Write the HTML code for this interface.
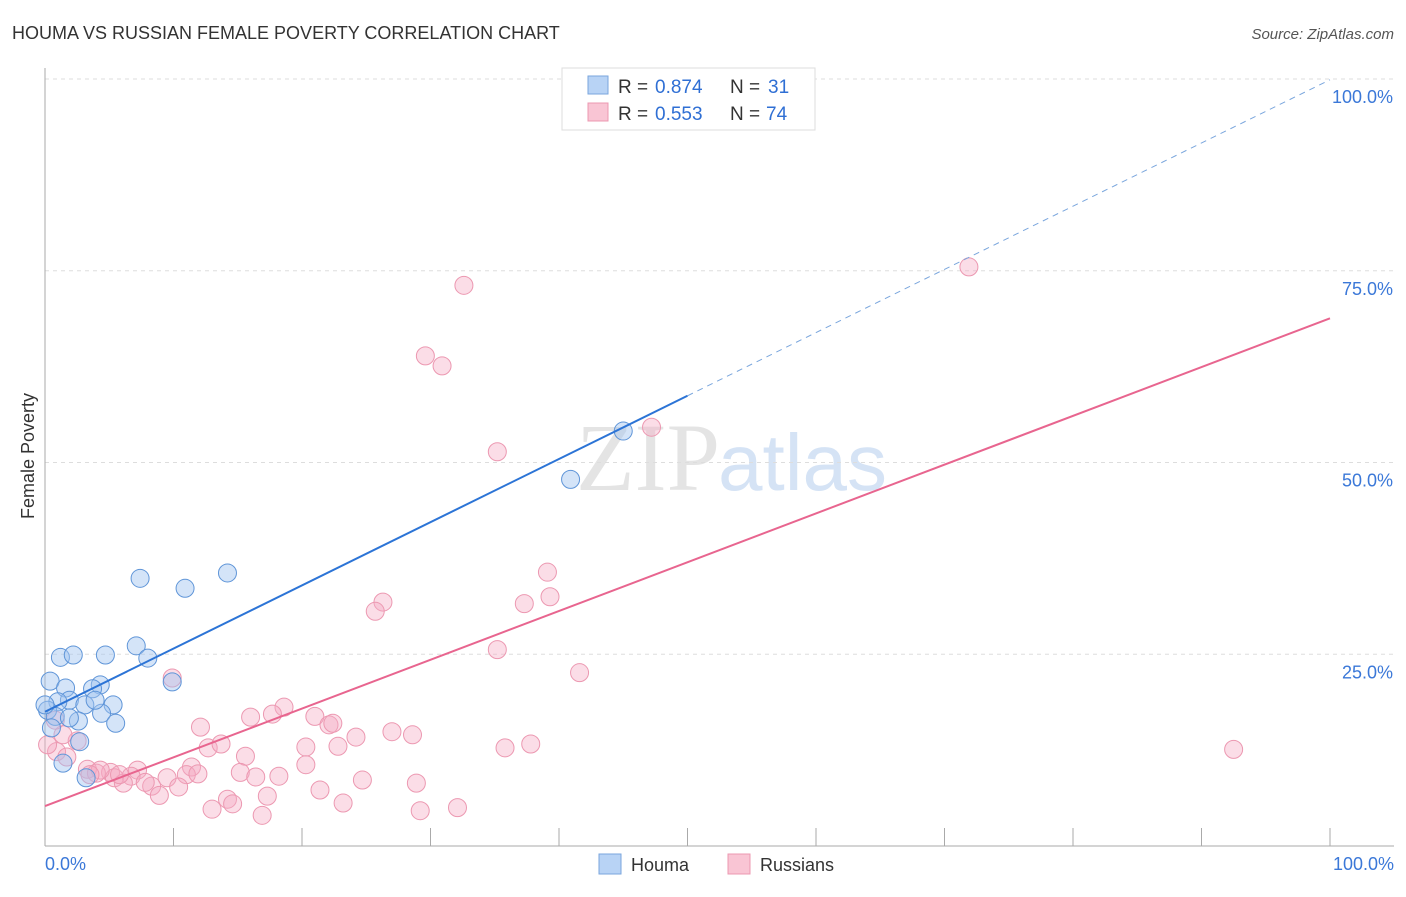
<!DOCTYPE html>
<html><head><meta charset="utf-8"><style>
body{margin:0;background:#fff;font-family:"Liberation Sans",sans-serif}
</style></head><body>
<svg width="1406" height="892" style="font-family:'Liberation Sans',sans-serif">
<text x="12" y="39" font-size="18" fill="#333">HOUMA VS RUSSIAN FEMALE POVERTY CORRELATION CHART</text>
<text x="1394" y="39" font-size="15" fill="#555" font-style="italic" text-anchor="end">Source: ZipAtlas.com</text>
<text x="720" y="490" font-size="96" fill="#e4e4e4" text-anchor="end" font-family="Liberation Serif">ZIP</text>
<text x="718" y="490" font-size="80" fill="#d5e3f5">atlas</text>
<g id="grid"></g><g id="axes"></g><g id="marks"></g>
<text transform="translate(34,456) rotate(-90)" font-size="18" fill="#333" text-anchor="middle">Female Poverty</text>
<g>
<rect x="562" y="68" width="253" height="62" fill="#fff" stroke="#ddd"/>
<rect x="588" y="76" width="20" height="18" fill="#b8d3f5" stroke="#7aa6dd"/>
<rect x="588" y="103" width="20" height="18" fill="#f9c5d4" stroke="#ec98b1"/>
<text x="618" y="93" font-size="19" fill="#333">R =</text>
<text x="655" y="93" font-size="19" fill="#2f6fd4">0.874</text>
<text x="730" y="93" font-size="19" fill="#333">N =</text>
<text x="768" y="93" font-size="19" fill="#2f6fd4">31</text>
<text x="618" y="120" font-size="19" fill="#333">R =</text>
<text x="655" y="120" font-size="19" fill="#2f6fd4">0.553</text>
<text x="730" y="120" font-size="19" fill="#333">N =</text>
<text x="766" y="120" font-size="19" fill="#2f6fd4">74</text>
</g>
<g>
<rect x="599" y="854" width="22" height="20" fill="#b8d3f5" stroke="#7aa6dd"/>
<text x="631" y="871" font-size="18" fill="#333">Houma</text>
<rect x="728" y="854" width="22" height="20" fill="#f9c5d4" stroke="#ec98b1"/>
<text x="760" y="871" font-size="18" fill="#333">Russians</text>
</g>
</svg>
<script>
const yTicks=[25,50,75,100];
const yTickLabels=["25.0%","50.0%","75.0%","100.0%"];
const xTickLabels=["0.0%","100.0%"];
const houmaX=[7.4,10.9,14.2,45.0,40.9,1.2,2.2,4.7,7.1,8.0,0.4,1.6,4.3,3.7,1.9,1.0,3.1,5.3,0.2,0.8,2.6,4.4,5.5,9.9,2.7,0.5,1.4,3.2,3.9,0.0,1.9];
const houmaY=[34.9,33.6,35.6,54.1,47.8,24.6,24.9,24.9,26.1,24.5,21.5,20.6,21.0,20.5,19.0,18.8,18.4,18.4,17.7,16.9,16.3,17.3,16.0,21.4,13.6,15.4,10.8,8.9,19.0,18.4,16.7];
const rusX=[71.9,32.6,29.6,30.9,47.2,35.2,39.1,39.3,37.3,26.3,25.7,35.2,41.6,9.9,92.5,18.6,16.0,17.7,12.1,21.0,22.1,22.4,27.0,28.6,24.2,12.7,13.7,20.3,22.8,35.8,37.8,15.6,0.9,0.2,1.7,2.5,1.4,11.4,20.3,15.2,16.4,18.2,11.0,11.9,9.5,7.2,6.7,5.1,3.3,4.0,5.4,6.1,8.3,10.4,24.7,28.9,21.4,13.0,14.2,14.6,17.3,16.9,23.2,29.2,32.1,8.9,7.8,4.3,3.5,5.8,0.8];
const rusY=[75.5,73.1,63.9,62.6,54.6,51.4,35.7,32.5,31.6,31.8,30.6,25.6,22.6,21.9,12.6,18.1,16.8,17.2,15.5,16.9,15.8,16.0,14.9,14.5,14.2,12.8,13.3,12.9,13.0,12.8,13.3,11.7,12.3,13.2,11.6,13.7,14.5,10.3,10.6,9.6,9.0,9.1,9.3,9.4,8.9,9.9,9.1,9.6,10.0,9.5,8.9,8.2,7.8,7.7,8.6,8.2,7.3,4.8,6.1,5.5,6.5,4.0,5.6,4.6,5.0,6.6,8.3,9.9,9.3,9.3,16.4];
const houmaFit=[17.5,0.824];
const rusFit=[5.2,0.636];
const NS="http://www.w3.org/2000/svg";
const X=v=>45+v*12.85, Y=v=>846-v*7.67;
function mk(t,a,p){const e=document.createElementNS(NS,t);for(const k in a)e.setAttribute(k,a[k]);document.getElementById(p).appendChild(e);return e;}
yTicks.forEach((t,i)=>{
 const g=mk('line',{x1:45,x2:1394,y1:Y(t),y2:Y(t),stroke:'#ddd','stroke-dasharray':'4,4'},'grid');
 
 
 const l=mk('text',{x:1393,y:Y(t)+24,'font-size':18,fill:'#3b78d8','text-anchor':'end'},'axes');
 l.textContent=yTickLabels[i];
 
 
});
const ax=mk('line',{x1:45,x2:45,y1:68,y2:846,stroke:'#aaa'},'axes');


const bx=mk('line',{x1:45,x2:1394,y1:846,y2:846,stroke:'#aaa'},'axes');


for(let i=1;i<=10;i++){const t=mk('line',{x1:X(i*10),x2:X(i*10),y1:828,y2:846,stroke:'#aaa'},'axes');
 
 }
[[0,'start',45],[100,'end',1394]].forEach((d,i)=>{const l=mk('text',{x:d[2],y:870,'font-size':18,fill:'#3b78d8','text-anchor':d[1]},'axes');l.textContent=xTickLabels[i];
 
 });
rusX.forEach((x,i)=>{const c=mk('circle',{cx:X(x),cy:Y(rusY[i]),r:9,fill:'rgba(246,170,195,0.4)',stroke:'#ec98b1','stroke-width':1},'marks');
 
 });
houmaX.forEach((x,i)=>{const c=mk('circle',{cx:X(x),cy:Y(houmaY[i]),r:9,fill:'rgba(160,196,240,0.45)',stroke:'#5f95d8','stroke-width':1},'marks');
 
 });
const l1=mk('line',{x1:X(0),y1:Y(houmaFit[0]),x2:X(50),y2:Y(houmaFit[0]+50*houmaFit[1]),stroke:'#2c74d6','stroke-width':2},'marks');


const l2=mk('line',{x1:X(50),y1:Y(houmaFit[0]+50*houmaFit[1]),x2:X(100),y2:Y(houmaFit[0]+100*houmaFit[1]),stroke:'#7aa6dd','stroke-width':1,'stroke-dasharray':'6,5'},'marks');


const l3=mk('line',{x1:X(0),y1:Y(rusFit[0]),x2:X(100),y2:Y(rusFit[0]+100*rusFit[1]),stroke:'#e8658f','stroke-width':2},'marks');


</script>
</body></html>
